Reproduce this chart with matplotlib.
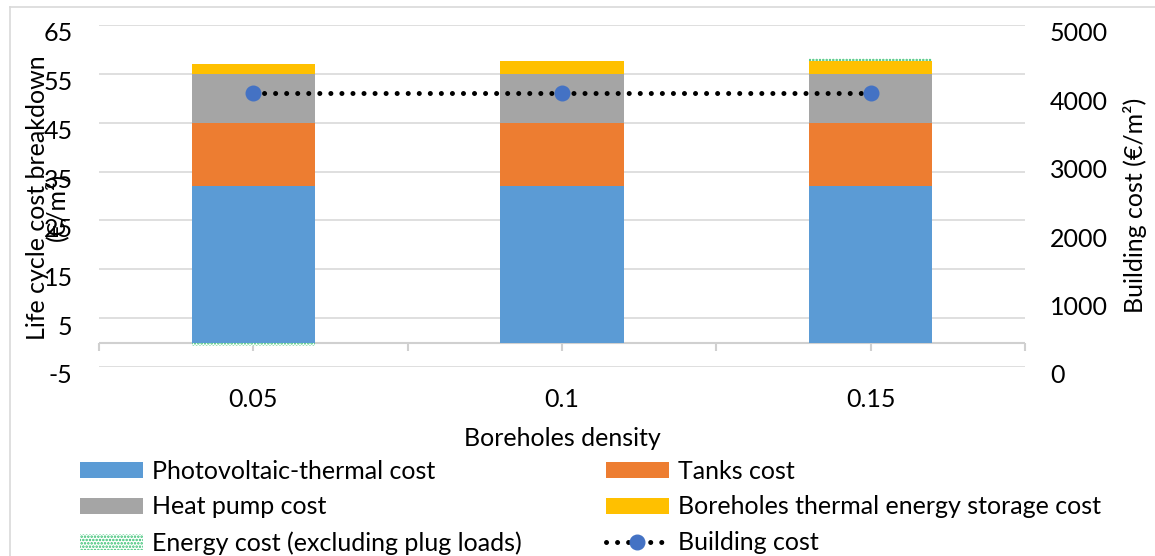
# Life cycle cost breakdown vs boreholes density
import numpy as np
import matplotlib as mpl
mpl.use('Agg')
import matplotlib.pyplot as plt
from matplotlib.lines import Line2D
from matplotlib.transforms import ScaledTranslation

plt.rcParams['font.family'] = ['Lato', 'DejaVu Sans']
plt.rcParams['hatch.linewidth'] = 1.2
plt.rcParams['axes.unicode_minus'] = False

densities = ['0.05', '0.1', '0.15']
pvt_cost = [32.1, 32.1, 32.1]
tanks_cost = [12.8, 12.8, 12.8]
heat_pump_cost = [10.1, 10.1, 10.1]
btes_cost = [2.0, 2.6, 2.6]
energy_cost = [-0.7, -0.1, 0.6]
building_cost = [4010, 4010, 4010]

series = [
    ('Photovoltaic-thermal cost', pvt_cost, '#5B9BD5'),
    ('Tanks cost', tanks_cost, '#ED7D31'),
    ('Heat pump cost', heat_pump_cost, '#A5A5A5'),
    ('Boreholes thermal energy storage cost', btes_cost, '#FFC000'),
]

FS = 18
GRID = '#D9D9D9'

fig = plt.figure(figsize=(11.55, 5.56), dpi=100)
ax = fig.add_axes([99/1155, 1-367/556, 926/1155, 342/556])
ax2 = ax.twinx()

x = np.arange(len(densities))
w = 0.4
pos_bottom = np.zeros(len(x))
neg_bottom = np.zeros(len(x))
handles = {}
for name, vals, col in series:
    vals = np.array(vals)
    b = ax.bar(x, vals, w, bottom=pos_bottom, color=col, zorder=3)
    pos_bottom += vals
    handles[name] = b

# energy cost: positive stacks on top, negative goes below zero
ec = np.array(energy_cost)
ec_bottom = np.where(ec >= 0, pos_bottom, neg_bottom)
b = ax.bar(x, ec, w, bottom=ec_bottom, facecolor='white', edgecolor='#2DBE6C',
           hatch='.....', linewidth=0, zorder=3)
handles['Energy cost (excluding plug loads)'] = b

ln, = ax2.plot(x, building_cost, color='black', linestyle=(0, (0.01, 2.2)),
               linewidth=3.6, dash_capstyle='round', marker='o', markersize=10.5,
               markerfacecolor='#4472C4', markeredgecolor='#4472C4', zorder=5)
handles['Building cost'] = ln

ax.set_xlim(-0.5, 2.5)
ax.set_ylim(-5, 65)
ax.set_yticks(np.arange(-5, 66, 10))
ax2.set_ylim(0, 5000)
ax2.set_yticks(np.arange(0, 5001, 1000))
ax.grid(axis='y', color=GRID, linewidth=1.2, zorder=0)
ax.axhline(0, color='#D0D0D0', linewidth=1.5, zorder=2)
ax.vlines(np.arange(-0.5, 2.6, 0.5), -1.65, 0, color='#D0D0D0', linewidth=1.5,
          clip_on=False, zorder=2)

for a in (ax, ax2):
    for s in a.spines.values():
        s.set_visible(False)
ax.set_xticks(x)
ax.set_xticklabels(densities)
ax.tick_params(axis='x', length=0, pad=15, labelsize=FS)
ax.tick_params(axis='y', length=0, pad=19, labelsize=FS)
ax2.tick_params(axis='y', length=0, pad=18, labelsize=FS)
off = ScaledTranslation(0, -5/72, fig.dpi_scale_trans)
for lab in ax.get_yticklabels() + ax2.get_yticklabels():
    lab.set_transform(lab.get_transform() + off)

fig.text(38/1155, 1-198/556, 'Life cycle cost breakdown', rotation=90,
         ha='center', va='center', fontsize=FS)
fig.text(56/1155, 1-207/556, '(€/m²)', rotation=90,
         ha='center', va='center', fontsize=FS)
fig.text(1135/1155, 1-205/556, 'Building cost (€/m²)', rotation=90,
         ha='center', va='center', fontsize=FS)
fig.text(562/1155, 1-438/556, 'Boreholes density', ha='center', va='center',
         fontsize=FS)

order = ['Photovoltaic-thermal cost', 'Heat pump cost',
         'Energy cost (excluding plug loads)', 'Tanks cost',
         'Boreholes thermal energy storage cost', 'Building cost']
fig.legend([handles[k] for k in order], order, ncol=2, frameon=False,
           loc='upper left', bbox_to_anchor=(80/1155, 1-460/556),
           fontsize=FS, handlelength=2.5, handleheight=0.6, handletextpad=0.4,
           columnspacing=3.35, labelspacing=0.5, borderpad=0, borderaxespad=0,
           numpoints=1)

# chart area frame
fig.add_artist(Line2D([10/1155, 10/1155], [0, 1-7/556], color=GRID, linewidth=1.2,
                      transform=fig.transFigure))
fig.add_artist(Line2D([10/1155, 1], [1-7/556, 1-7/556], color=GRID, linewidth=1.2,
                      transform=fig.transFigure))

plt.savefig('out.png', dpi=100)
plt.close('all')
